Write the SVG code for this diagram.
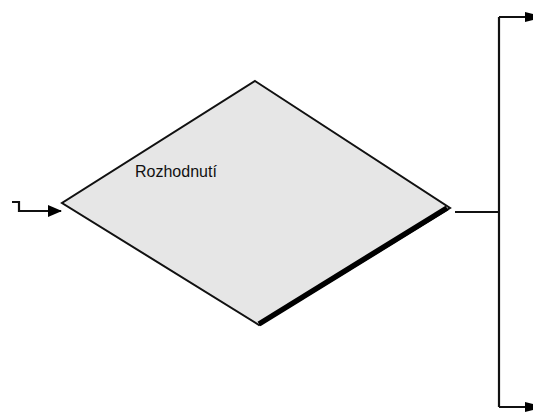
<svg xmlns="http://www.w3.org/2000/svg" width="533" height="416" viewBox="0 0 533 416">
<defs>
<style>
.conn{fill:none;stroke:#111;stroke-width:2.2}
.label{font-family:"Liberation Sans",Arial,sans-serif;font-size:16px;fill:#111}
</style>
<marker id="ah" markerWidth="14" markerHeight="12" refX="13" refY="6" orient="auto" markerUnits="userSpaceOnUse">
<path d="M0,0 L14,6 L0,12 Z" fill="#000"/>
</marker>
<marker id="ahs" markerWidth="8" markerHeight="10" refX="8" refY="5" orient="auto" markerUnits="userSpaceOnUse">
<path d="M0,0 L8,2 L8,8 L0,10 Z" fill="#000"/>
</marker>
</defs>
<rect width="533" height="416" fill="#fff"/>
<g id="decision">
<polygon points="255,81 450,208 259,325 62,203" fill="#e6e6e6" stroke="#111" stroke-width="2"/>
<line x1="259" y1="324" x2="447" y2="208" stroke="#000" stroke-width="5.5"/>
<text class="label" x="135" y="177">Rozhodnutí</text>
</g>
<g id="connectors">
<path class="conn" d="M12,202 H19 V211 H61" marker-end="url(#ah)"/>
<path class="conn" d="M455,212 H499"/>
<path class="conn" d="M499,17 V407"/>
<path class="conn" d="M499,17 H533" marker-end="url(#ahs)"/>
<path class="conn" d="M499,407 H533" marker-end="url(#ahs)"/>
</g>
</svg>
